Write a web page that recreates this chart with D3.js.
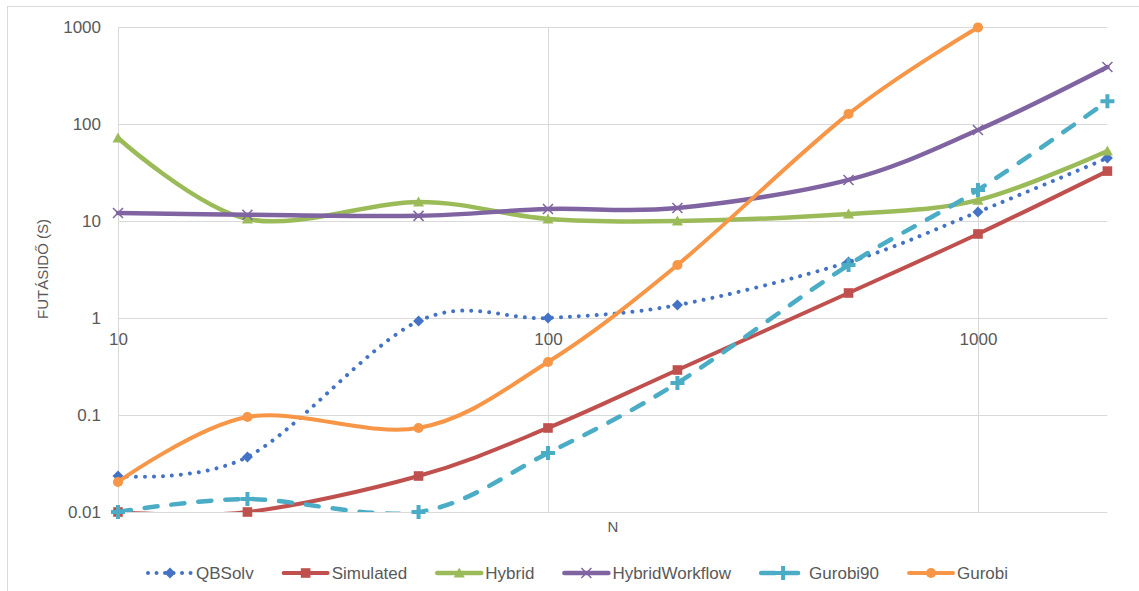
<!DOCTYPE html>
<html>
<head>
<meta charset="utf-8">
<script src="https://cdn.jsdelivr.net/npm/d3@7"></script>
<style>
  html, body { margin: 0; padding: 0; background: #fff; }
  svg { display: block; font-family: "Liberation Sans", Arial, sans-serif; }
</style>
</head>
<body>
<svg id="chart" width="1139" height="591"></svg>
<script>
// Problem sizes (x axis) and tick labels
const sizes = [10, 20, 50, 100, 200, 500, 1000, 2000];
const xTicks = [10, 100, 1000];
const yTicks = [0.01, 0.1, 1, 10, 100, 1000];

// Running times in seconds per solver
const qbsolv         = [0.0235, 0.037, 0.93, 1.0, 1.36, 3.77, 12.4, 44.6];
const simulated      = [0.01, 0.01, 0.0235, 0.0735, 0.291, 1.81, 7.35, 32.7];
const hybrid         = [71.8, 10.5, 15.7, 10.5, 10.0, 11.8, 16.4, 52.7];
const hybridWorkflow = [12.1, 11.6, 11.3, 13.3, 13.6, 26.5, 86.7, 387];
const gurobi90       = [0.01, 0.0136, 0.01, 0.0405, 0.214, 3.52, 20.9, 172];
const gurobi         = [0.0204, 0.0953, 0.0735, 0.352, 3.52, 127, 990];

const seriesNames = ["QBSolv", "Simulated", "Hybrid", "HybridWorkflow", "Gurobi90", "Gurobi"];
const seriesValues = [qbsolv, simulated, hybrid, hybridWorkflow, gurobi90, gurobi];
const seriesColors = ["#4472C4", "#C0504D", "#9BBB59", "#8064A2", "#4BACC6", "#F79646"];

const svg = d3.select("#chart");
const textColor = "#595959";
const gridColor = "#d9d9d9";

// chart area border
svg.append("rect")
  .attr("x", 7.5).attr("y", 6.5).attr("width", 1200).attr("height", 700)
  .attr("fill", "none").attr("stroke", gridColor).attr("stroke-width", 1);

const x = d3.scaleLog().domain([10, 2000]).range([118, 1107.4]);
const y = d3.scaleLog().domain([0.01, 1000]).range([512, 27]);

// grid
svg.append("g").selectAll("line").data(yTicks).join("line")
  .attr("x1", x(10)).attr("x2", x(2000))
  .attr("y1", d => Math.round(y(d)) + 0.5).attr("y2", d => Math.round(y(d)) + 0.5)
  .attr("stroke", gridColor).attr("stroke-width", 1);
svg.append("g").selectAll("line").data(xTicks).join("line")
  .attr("x1", d => Math.round(x(d)) + 0.5).attr("x2", d => Math.round(x(d)) + 0.5)
  .attr("y1", y(1000)).attr("y2", y(0.01))
  .attr("stroke", gridColor).attr("stroke-width", 1);

// y axis labels
const yAxis = d3.axisLeft(y).tickValues(yTicks).tickSize(0).tickPadding(17)
  .tickFormat(d => d3.format("~g")(d));
const gy = svg.append("g").attr("transform", `translate(${x(10)},0)`).call(yAxis);
gy.select(".domain").remove();
gy.selectAll("text").attr("fill", textColor).style("font-size", "17px")
  .style("font-family", "'Liberation Sans', Arial, sans-serif");

// x axis labels, crossing at 1
const xAxis = d3.axisBottom(x).tickValues(xTicks).tickSize(0).tickPadding(15)
  .tickFormat(d => String(d));
const gx = svg.append("g").attr("transform", `translate(0,${y(1)})`).call(xAxis);
gx.select(".domain").remove();
gx.selectAll("text").attr("fill", textColor).style("font-size", "17px")
  .style("font-family", "'Liberation Sans', Arial, sans-serif");

// axis titles
svg.append("text").attr("x", 613).attr("y", 532).attr("text-anchor", "middle")
  .attr("fill", textColor).style("font-size", "15px").text("N");
svg.append("text").attr("transform", "translate(48,269) rotate(-90)")
  .attr("text-anchor", "middle").attr("fill", textColor).style("font-size", "15px")
  .text("FUTÁSIDŐ (S)");

// clip for the smoothed lines
svg.append("clipPath").attr("id", "plot-clip").append("rect")
  .attr("x", x(10) - 2).attr("y", y(1000) - 4)
  .attr("width", x(2000) - x(10) + 6).attr("height", y(0.01) - y(1000) + 4);

const lineStyles = [
  { width: 4, dash: "0.01 9", cap: "round" },
  { width: 4, dash: null, cap: "round" },
  { width: 4.5, dash: null, cap: "round" },
  { width: 4.5, dash: null, cap: "round" },
  { width: 4.5, dash: "13 14", cap: "round" },
  { width: 4, dash: null, cap: "round" }
];

// marker shapes in pixel units
function markerPath(i) {
  switch (i) {
    case 0: return "M0,-5.5L5.5,0L0,5.5L-5.5,0Z";
    case 1: return "M-4.8,-4.8H4.8V4.8H-4.8Z";
    case 2: return "M0,-5.5L5.5,4.5H-5.5Z";
    case 3: return "M-5,-5L5,5M5,-5L-5,5";
    case 4: return "M-7,0H7M0,-7V7";
    case 5: return d3.symbol(d3.symbolCircle, 80)();
  }
}
function drawMarker(g, i, color) {
  const p = g.append("path").attr("d", markerPath(i));
  if (i === 3) p.attr("fill", "none").attr("stroke", color).attr("stroke-width", 1.5);
  else if (i === 4) p.attr("fill", "none").attr("stroke", color).attr("stroke-width", 4);
  else p.attr("fill", color);
}

const line = d3.line()
  .x(d => x(d[0])).y(d => y(d[1]))
  .curve(d3.curveCardinal.tension(0));

seriesValues.forEach((vals, i) => {
  const pts = vals.map((v, k) => [sizes[k], v]);
  const st = lineStyles[i];
  svg.append("path")
    .attr("d", line(pts))
    .attr("clip-path", "url(#plot-clip)")
    .attr("fill", "none")
    .attr("stroke", seriesColors[i])
    .attr("stroke-width", st.width)
    .attr("stroke-linecap", st.cap)
    .attr("stroke-linejoin", "round")
    .attr("stroke-dasharray", st.dash);
  const mg = svg.append("g");
  pts.forEach(p => {
    const g = mg.append("g").attr("transform", `translate(${x(p[0])},${y(p[1])})`);
    drawMarker(g, i, seriesColors[i]);
  });
});

// legend
const legend = svg.append("g");
let cursor = 0;
const items = [];
seriesNames.forEach((name, i) => {
  const g = legend.append("g");
  const st = lineStyles[i];
  g.append("line").attr("x1", 0).attr("x2", 44).attr("y1", 0).attr("y2", 0)
    .attr("stroke", seriesColors[i]).attr("stroke-width", st.width)
    .attr("stroke-linecap", st.cap)
    .attr("stroke-dasharray", i === 0 ? "0.01 8.5" : (i === 4 ? "14 9" : null));
  const mk = g.append("g").attr("transform", "translate(22,0)");
  drawMarker(mk, i, seriesColors[i]);
  const t = g.append("text").attr("x", 48).attr("y", 6).attr("fill", textColor)
    .style("font-size", "17px").text(name);
  const w = 48 + t.node().getComputedTextLength();
  items.push({ g, start: cursor });
  cursor += w + 30;
});
const total = cursor - 30;
const left = 148 - 0;
const startX = Math.max(left, 571 - total / 2);
items.forEach(it => it.g.attr("transform", `translate(${startX + it.start},573)`));
</script>
</body>
</html>
